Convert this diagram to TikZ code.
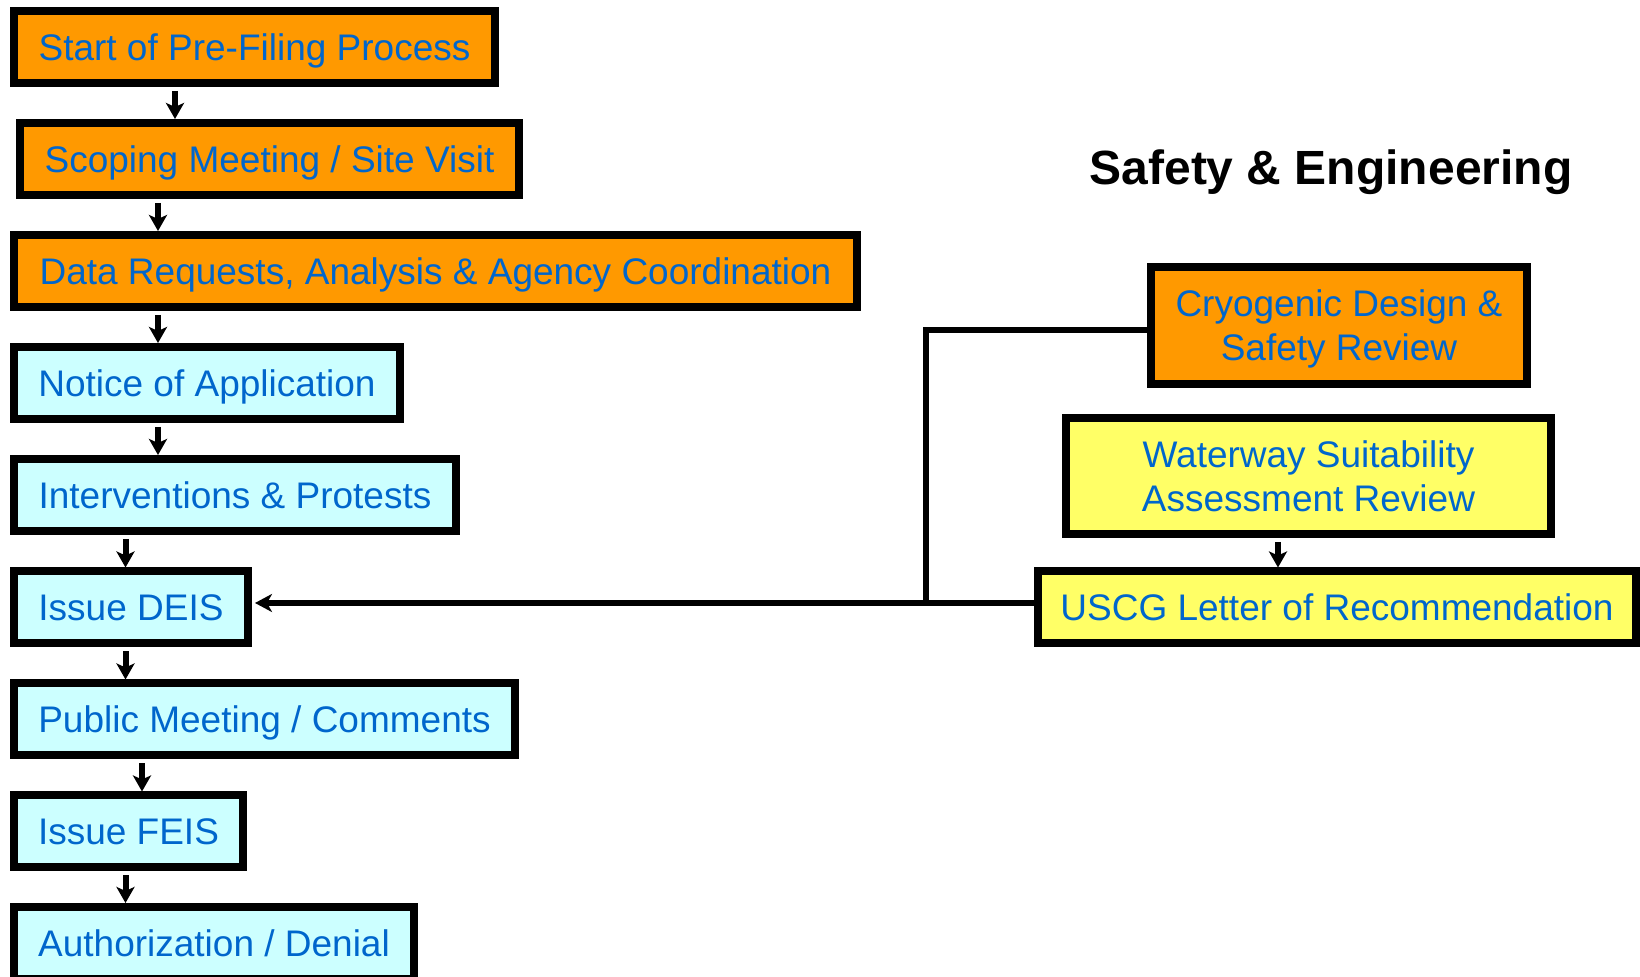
\documentclass[tikz,border=0pt]{standalone}
\usepackage{fontspec}
\setmainfont{Liberation Sans}
\usetikzlibrary{arrows.meta}
\definecolor{prefileorange}{HTML}{FF9900}
\definecolor{reviewcyan}{HTML}{CCFFFF}
\definecolor{coastyellow}{HTML}{FFFF66}
\definecolor{stageblue}{HTML}{0066CC}
\tikzset{
  stage/.style={draw, line width=4pt, inner sep=0pt, minimum height=36pt,
    text=stageblue, font=\fontsize{18.5}{22}\selectfont},
  oneline/.style={text height=13.2pt, text depth=0pt},
  prefile/.style={stage, oneline, fill=prefileorange},
  review/.style={stage, oneline, fill=reviewcyan},
  coast/.style={stage, fill=coastyellow},
  flow/.style={-{Stealth[length=8pt,width=9pt,inset=2pt]}, line width=3pt, shorten <=2pt},
  link/.style={line width=3pt}
}
\begin{document}
\begin{tikzpicture}[x=0.5pt,y=-0.5pt]
    \useasboundingbox (0,0) rectangle (1640,977);
    % FERC process column
    \node[prefile, minimum width=240.5pt] (start) at (254.5,47) {Start of Pre-Filing Process};
    \node[prefile, minimum width=249.5pt] (scoping) at (269.5,159) {Scoping Meeting / Site Visit};
    \node[prefile, minimum width=421.5pt] (data) at (435.5,271) {Data Requests, Analysis \& Agency Coordination};
    \node[review, minimum width=193pt] (notice) at (207,383) {Notice of Application};
    \node[review, minimum width=221pt] (interv) at (235,495) {Interventions \& Protests};
    \node[review, minimum width=117pt] (deis) at (131,607.5) {Issue DEIS};
    \node[review, minimum width=250.5pt] (public) at (264.5,719.5) {Public Meeting / Comments};
    \node[review, minimum width=114.5pt] (feis) at (128.5,831.5) {Issue FEIS};
    \node[review, minimum width=200pt] (auth) at (214,943) {Authorization / Denial};
    \foreach \a/\b/\x in {start/scoping/175,scoping/data/158,data/notice/158,notice/interv/158,
      interv/deis/125.5,deis/public/125.5,public/feis/142,feis/auth/125.5}
    \draw[flow] (\a.south -| \x,0) -- (\b.north -| \x,0);
    % safety & engineering side
    \node[anchor=base, font=\fontsize{24}{28}\selectfont\bfseries] (title) at (1331,185) {Safety \& Engineering};
    \node[stage, fill=prefileorange, align=center, text depth=0pt, minimum width=188pt, minimum height=58.5pt] (cryo) at (1339,325.5)
      {Cryogenic Design \&\\Safety Review};
    \node[coast, align=center, minimum width=242.5pt, minimum height=58pt] (water) at (1308.5,476)
      {Waterway Suitability\\Assessment Review};
    \node[coast, oneline, minimum width=299pt] (uscg) at (1337,607.5) {USCG Letter of Recommendation};
    \draw[flow] (water.south -| 1278,0) -- (uscg.north -| 1278,0);
    \coordinate (jn) at (926,603);
    \draw[link] ([yshift=-2.25pt]cryo.west) -| (jn);
    \draw[link, -{Stealth[length=8.5pt,width=9pt,inset=2.5pt]}, shorten >=1.5pt]
      ([yshift=2.25pt]uscg.west) -- ([yshift=2.25pt]deis.east);
\end{tikzpicture}
\end{document}
